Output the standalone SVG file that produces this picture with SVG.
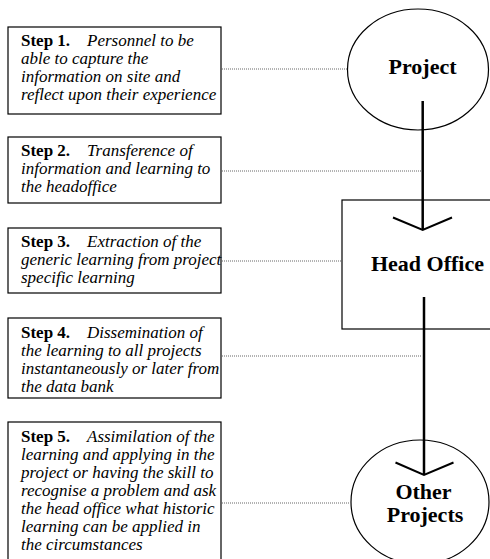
<svg xmlns="http://www.w3.org/2000/svg" width="490" height="559" viewBox="0 0 490 559">
<style>
.box{fill:#fff;stroke:#000;stroke-width:1.2}
.shape{fill:#fff;stroke:#000;stroke-width:1.2}
text{font-family:'Liberation Serif',Tinos,'Nimbus Roman','Times New Roman',Times,'DejaVu Serif',serif}
.st{font-size:17px;fill:#000}
.b{font-weight:bold}
.i{font-style:italic}
.title{font-size:22px;font-weight:bold;fill:#000;text-anchor:middle}
.dot{stroke:#666;stroke-width:1;stroke-dasharray:1 1;fill:none}
.flow{stroke:#000;stroke-width:2.5;fill:none}
.head{stroke:#000;stroke-width:2;fill:none}
</style>
<rect width="490" height="559" fill="#fff"/>
<g id="project">
<ellipse class="shape" cx="418" cy="69.5" rx="70.5" ry="60.5"/>
<text class="title" x="422.5" y="74">Project</text>
</g>
<g id="head-office">
<rect class="shape" x="342" y="200" width="160" height="129"/>
<text class="title" x="427.5" y="271">Head Office</text>
</g>
<g id="other-projects">
<ellipse class="shape" cx="420" cy="502" rx="69" ry="62"/>
<text class="title" x="424" y="522"><tspan x="423.5" y="499">Other</tspan><tspan x="425" y="522">Projects</tspan></text>
</g>
<g id="step1">
<rect class="box" x="8" y="27" width="213" height="87"/>
<text class="st" x="21" y="46"><tspan class="b">Step 1.</tspan><tspan class="i" x="87">Personnel to be</tspan><tspan class="i" x="21" dy="18">able to capture the</tspan><tspan class="i" x="21" dy="18">information on site and</tspan><tspan class="i" x="21" dy="18">reflect upon their experience</tspan></text>
</g>
<g id="step2">
<rect class="box" x="8" y="137" width="213" height="66"/>
<text class="st" x="21" y="156"><tspan class="b">Step 2.</tspan><tspan class="i" x="87">Transference of</tspan><tspan class="i" x="21" dy="18">information and learning to</tspan><tspan class="i" x="21" dy="18">the headoffice</tspan></text>
</g>
<g id="step3">
<rect class="box" x="8" y="228" width="213" height="65"/>
<text class="st" x="21" y="247"><tspan class="b">Step 3.</tspan><tspan class="i" x="87">Extraction of the</tspan><tspan class="i" x="21" dy="18">generic learning from project</tspan><tspan class="i" x="21" dy="18">specific learning</tspan></text>
</g>
<g id="step4">
<rect class="box" x="8" y="318" width="213" height="80"/>
<text class="st" x="21" y="338"><tspan class="b">Step 4.</tspan><tspan class="i" x="87">Dissemination of</tspan><tspan class="i" x="21" dy="18">the learning to all projects</tspan><tspan class="i" x="21" dy="18">instantaneously or later from</tspan><tspan class="i" x="21" dy="18">the data bank</tspan></text>
</g>
<g id="step5">
<rect class="box" x="8" y="422" width="213" height="150"/>
<text class="st" x="21" y="442"><tspan class="b">Step 5.</tspan><tspan class="i" x="87">Assimilation of the</tspan><tspan class="i" x="21" dy="18">learning and applying in the</tspan><tspan class="i" x="21" dy="18">project or having the skill to</tspan><tspan class="i" x="21" dy="18">recognise a problem and ask</tspan><tspan class="i" x="21" dy="18">the head office what historic</tspan><tspan class="i" x="21" dy="18">learning can be applied in</tspan><tspan class="i" x="21" dy="18">the circumstances</tspan></text>
</g>
<g id="connectors">
<line class="dot" x1="222" y1="69" x2="347" y2="69"/>
<line class="dot" x1="222" y1="171" x2="421" y2="171"/>
<line class="dot" x1="222" y1="261" x2="341" y2="261"/>
<line class="dot" x1="222" y1="356" x2="422" y2="356"/>
<line class="dot" x1="222" y1="503" x2="350" y2="503"/>
<line class="flow" x1="422.7" y1="101" x2="422.7" y2="230"/>
<polyline class="head" points="393,217.5 422.7,230 452,217.5"/>
<line class="flow" x1="424" y1="297" x2="424" y2="475"/>
<polyline class="head" points="395.5,462.5 424,475 453.5,462.5"/>
</g>
</svg>
